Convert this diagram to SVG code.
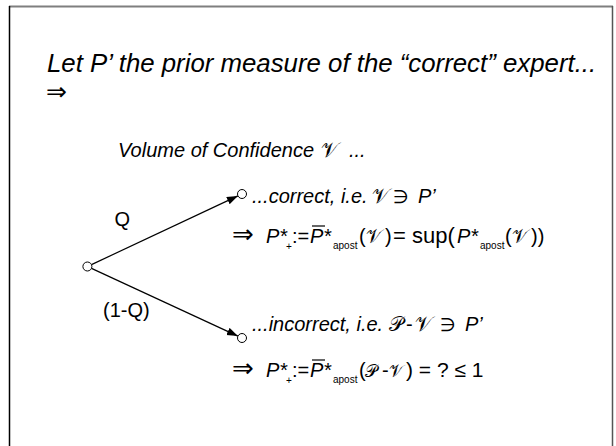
<svg xmlns="http://www.w3.org/2000/svg" width="616" height="446" viewBox="0 0 616 446">
<style>
text{font-family:"Liberation Sans",Arial,sans-serif;fill:#000}
.it{font-style:italic}
.sym{font-family:"DejaVu Sans","Liberation Sans",sans-serif;font-style:normal}
.scr{font-family:"DejaVu Serif","DejaVu Sans","Noto Sans",serif;font-style:normal}
.sub{font-size:10px;font-style:normal}
.n{font-style:normal}
</style>
<defs>
<marker id="ah" markerUnits="userSpaceOnUse" markerWidth="12" markerHeight="10" refX="11" refY="4" orient="auto">
<path d="M0,0 L11,4 L0,8 Z" fill="#000"/>
</marker>
</defs>
<rect width="616" height="446" fill="#fff"/>
<g id="frame" fill="none">
<line x1="9" y1="6.5" x2="613" y2="6.5" stroke="#7f7f7f" stroke-width="2"/>
<line x1="9.5" y1="6" x2="9.5" y2="446" stroke="#000" stroke-width="1.5"/>
<line x1="612.5" y1="6" x2="612.5" y2="446" stroke="#555" stroke-width="1.5"/>
</g>
<g id="title">
<text x="47" y="72" class="it" font-size="25.8">Let P’ the prior measure of the “correct” expert...</text>
<text x="46" y="100" class="sym" font-size="25">⇒</text>
</g>
<g id="volume">
<text x="118" y="157" class="it" font-size="20">Volume of Confidence</text>
<text x="321" y="157" class="scr" font-size="21">𝒱</text>
<text x="349" y="157" class="it" font-size="20">...</text>
</g>
<g id="connectors" stroke="#000" stroke-width="1.2" fill="none">
<line x1="91.5" y1="264.6" x2="237.9" y2="195.9" marker-end="url(#ah)"/>
<line x1="91.5" y1="268.4" x2="237.9" y2="336.1" marker-end="url(#ah)"/>
</g>
<g id="root"><circle cx="87.4" cy="266.5" r="4.5" fill="#fff" stroke="#000" stroke-width="1"/></g>
<g id="correct-node"><circle cx="242" cy="194" r="4.5" fill="#fff" stroke="#000" stroke-width="1"/></g>
<g id="incorrect-node"><circle cx="242" cy="338" r="4.5" fill="#fff" stroke="#000" stroke-width="1"/></g>
<g id="labels">
<text x="114.5" y="226" font-size="20">Q</text>
<text x="103" y="317" font-size="20">(1-Q)</text>
</g>
<g id="correct-text">
<text x="252" y="203" class="it" font-size="20">...correct, i.e.</text>
<text x="372" y="203" class="scr" font-size="21">𝒱</text>
<text x="393" y="203" class="sym" font-size="18">∋</text>
<text x="418" y="203" class="it" font-size="20">P’</text>
</g>
<g id="correct-formula">
<text x="232" y="243" class="sym" font-size="26">⇒</text>
<text x="266" y="243" class="it" font-size="20">P*</text>
<text x="286" y="250" class="sub">+</text>
<text x="292" y="243" class="n" font-size="20">:=</text>
<text x="310" y="243" class="it" font-size="20">P*</text>
<line x1="312" y1="226" x2="325" y2="226" stroke="#000" stroke-width="1.2"/>
<text x="333" y="249" class="sub">apost</text>
<text x="359" y="243" class="n" font-size="20">(</text>
<text x="366" y="243" class="scr" font-size="19">𝒱</text>
<text x="385" y="243" class="n" font-size="20">)</text>
<text x="393" y="243" class="n" font-size="22">= sup(</text>
<text x="457" y="243" class="it" font-size="20">P*</text>
<text x="480" y="249" class="sub">apost</text>
<text x="505" y="243" class="n" font-size="20">(</text>
<text x="512" y="243" class="scr" font-size="19">𝒱</text>
<text x="531" y="243" class="n" font-size="20">))</text>
</g>
<g id="incorrect-text">
<text x="252" y="331" class="it" font-size="20">...incorrect, i.e.</text>
<text x="389" y="331" class="scr" font-size="20">𝒫</text>
<text x="406" y="331" class="n" font-size="20">-</text>
<text x="415" y="331" class="scr" font-size="21">𝒱</text>
<text x="440" y="331" class="sym" font-size="18">∋</text>
<text x="465" y="331" class="it" font-size="20">P’</text>
</g>
<g id="incorrect-formula">
<text x="232" y="377" class="sym" font-size="26">⇒</text>
<text x="266" y="377" class="it" font-size="20">P*</text>
<text x="286" y="384" class="sub">+</text>
<text x="292" y="377" class="n" font-size="20">:=</text>
<text x="310" y="377" class="it" font-size="20">P*</text>
<line x1="312" y1="360" x2="325" y2="360" stroke="#000" stroke-width="1.2"/>
<text x="333" y="383" class="sub">apost</text>
<text x="359" y="377" class="n" font-size="20">(</text>
<text x="365" y="377" class="scr" font-size="17">𝒫</text>
<text x="382" y="377" class="n" font-size="20">-</text>
<text x="389" y="377" class="scr" font-size="17">𝒱</text>
<text x="406" y="377" class="n" font-size="21">) = ? ≤ 1</text>
</g>
</svg>
